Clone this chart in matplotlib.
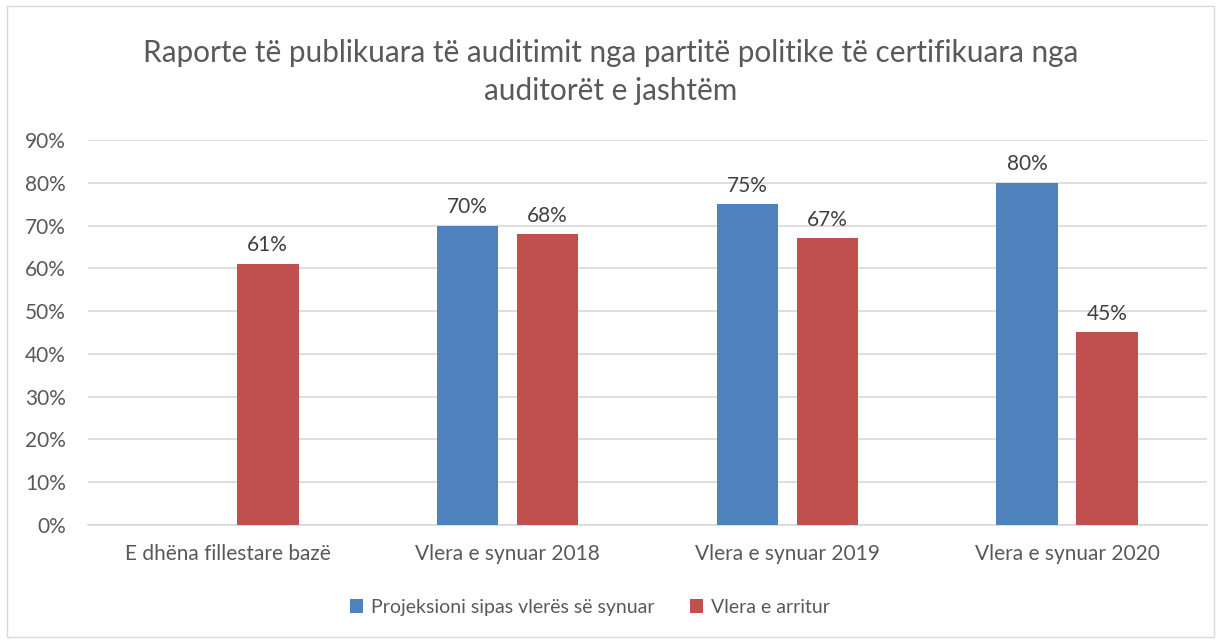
import numpy as np
import matplotlib.pyplot as plt
from matplotlib.patches import Rectangle

plt.rcParams['font.family'] = ['Lato', 'DejaVu Sans']

categories = ['E dhëna fillestare bazë', 'Vlera e synuar 2018',
              'Vlera e synuar 2019', 'Vlera e synuar 2020']
projeksioni = [np.nan, 70, 75, 80]
arritur = [61, 68, 67, 45]
yticks = [0, 10, 20, 30, 40, 50, 60, 70, 80, 90]

blue = '#4f81bd'
red = '#c0504d'
grey = '#595959'

fig = plt.figure(figsize=(12.21, 6.41), dpi=100)
fig.patches.append(Rectangle((0.006, 0.006), 0.988, 0.985, transform=fig.transFigure,
                             fill=False, edgecolor='#d9d9d9', linewidth=1))
ax = fig.add_axes([0.072, 0.181, 0.9165, 0.6006])

x = np.arange(len(categories))
w = 0.22
off = 0.143
b1 = ax.bar(x - off, projeksioni, w, color=blue, label='Projeksioni sipas vlerës së synuar', zorder=3)
b2 = ax.bar(x + off, arritur, w, color=red, label='Vlera e arritur', zorder=3)

for bars, vals in [(b1, projeksioni), (b2, arritur)]:
    for b, v in zip(bars, vals):
        if np.isnan(v):
            continue
        ax.text(b.get_x() + b.get_width() / 2, v + 2.0, f'{v:.0f}%', ha='center', va='bottom',
                fontsize=15, color='#404040')

ax.set_xlim(-0.5, 3.5)
ax.set_ylim(0, 90)
ax.set_yticks(yticks)
ax.set_yticklabels([f'{t}%' for t in yticks])
ax.set_xticks(x)
ax.set_xticklabels(categories)
ax.tick_params(axis='both', length=0, labelsize=15, labelcolor=grey)
ax.tick_params(axis='y', pad=16)
ax.tick_params(axis='x', pad=14)
ax.grid(axis='y', color='#d9d9d9', linewidth=1.2, zorder=0)
for s in ['top', 'right', 'left']:
    ax.spines[s].set_visible(False)
ax.spines['bottom'].set_color('#d9d9d9')
ax.spines['bottom'].set_linewidth(1.2)

fig.text(0.5, 0.888, 'Raporte të publikuara të auditimit nga partitë politike të certifikuara nga\nauditorët e jashtëm',
         ha='center', va='center', fontsize=21.4, color=grey, linespacing=1.45)

fig.legend(loc='center', bbox_to_anchor=(0.483, 0.053), ncol=2, frameon=False,
           fontsize=14, labelcolor=grey, handlelength=0.7, handleheight=0.7,
           handletextpad=0.4, columnspacing=1.8)

fig.savefig('out.png', dpi=100)
